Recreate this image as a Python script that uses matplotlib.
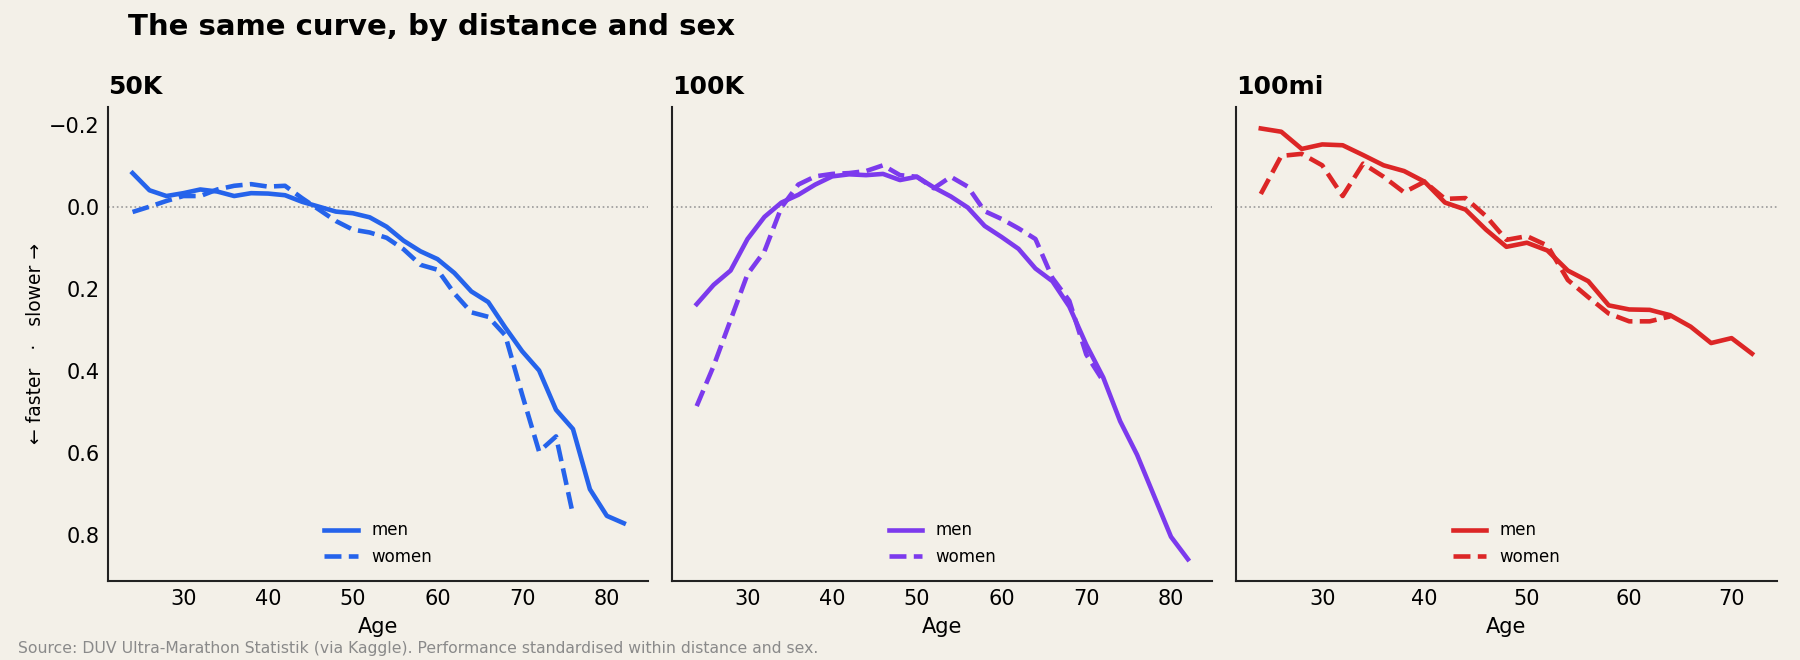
import numpy as np
import matplotlib
matplotlib.use("Agg")
import matplotlib.pyplot as plt

# ages (every 2 years) and standardised performance
ages_50k_men = [24, 26, 28, 30, 32, 34, 36, 38, 40, 42, 44, 46, 48, 50, 52, 54,
                56, 58, 60, 62, 64, 66, 68, 70, 72, 74, 76, 78, 80, 82]
perf_50k_men = [-0.083, -0.041, -0.027, -0.034, -0.043, -0.038, -0.027, -0.034,
                -0.033, -0.029, -0.013, -0.001, 0.011, 0.015, 0.025, 0.048,
                0.082, 0.108, 0.127, 0.161, 0.206, 0.232, 0.294, 0.352, 0.399,
                0.495, 0.542, 0.689, 0.754, 0.772]
ages_50k_women = [24, 26, 28, 30, 32, 34, 36, 38, 40, 42, 44, 46, 48, 50, 52,
                  54, 56, 58, 60, 62, 64, 66, 68, 70, 72, 74, 76]
perf_50k_women = [0.012, -0.001, -0.015, -0.027, -0.027, -0.043, -0.052, -0.056,
                  -0.050, -0.052, -0.022, 0.006, 0.034, 0.055, 0.062, 0.075,
                  0.103, 0.141, 0.153, 0.211, 0.257, 0.268, 0.313, 0.458, 0.597,
                  0.560, 0.751]

ages_100k_men = ages_50k_men
perf_100k_men = [0.237, 0.190, 0.155, 0.078, 0.024, -0.011, -0.030, -0.055,
                 -0.075, -0.080, -0.078, -0.081, -0.066, -0.074, -0.048, -0.026,
                 0.001, 0.046, 0.073, 0.102, 0.150, 0.181, 0.243, 0.336, 0.416,
                 0.523, 0.605, 0.705, 0.805, 0.860]
ages_100k_women = [24, 26, 28, 30, 32, 34, 36, 38, 40, 42, 44, 46, 48, 50, 52,
                   54, 56, 58, 60, 62, 64, 66, 68, 70, 72]
perf_100k_women = [0.486, 0.388, 0.276, 0.164, 0.108, 0.001, -0.055, -0.075,
                   -0.081, -0.083, -0.088, -0.102, -0.078, -0.074, -0.046,
                   -0.074, -0.050, 0.010, 0.029, 0.052, 0.078, 0.173, 0.229,
                   0.360, 0.425]

ages_100mi_men = [24, 26, 28, 30, 32, 34, 36, 38, 40, 42, 44, 46, 48, 50, 52,
                  54, 56, 58, 60, 62, 64, 66, 68, 70, 72]
perf_100mi_men = [-0.192, -0.184, -0.142, -0.153, -0.151, -0.127, -0.102, -0.088,
                  -0.062, -0.011, 0.006, 0.055, 0.097, 0.087, 0.106, 0.155,
                  0.181, 0.240, 0.250, 0.251, 0.264, 0.292, 0.332, 0.320, 0.358]
ages_100mi_women = [24, 26, 28, 30, 32, 34, 36, 38, 40, 42, 44, 46, 48, 50, 52,
                    54, 56, 58, 60, 62, 64]
perf_100mi_women = [-0.032, -0.125, -0.130, -0.102, -0.027, -0.106, -0.074,
                    -0.036, -0.062, -0.020, -0.022, 0.022, 0.080, 0.071, 0.094,
                    0.178, 0.220, 0.260, 0.279, 0.279, 0.267]

distances = ["50K", "100K", "100mi"]
colors = ["#2563eb", "#7c3aed", "#dc2626"]
men = [(ages_50k_men, perf_50k_men), (ages_100k_men, perf_100k_men),
       (ages_100mi_men, perf_100mi_men)]
women = [(ages_50k_women, perf_50k_women), (ages_100k_women, perf_100k_women),
         (ages_100mi_women, perf_100mi_women)]

bg = "#f3f0e8"
plt.rcParams['font.family'] = ['DejaVu Sans']

fig, axes = plt.subplots(1, 3, figsize=(12, 4.4), dpi=150, sharey=True)
fig.patch.set_facecolor(bg)
fig.subplots_adjust(left=0.06, right=0.987, bottom=0.12, top=0.838, wspace=0.044)

for i, ax in enumerate(axes):
    ax.set_facecolor(bg)
    ax.axhline(0, color="#999999", lw=0.8, ls=":", zorder=1)
    ax.plot(men[i][0], men[i][1], color=colors[i], lw=2.2, label="men")
    ax.plot(women[i][0], women[i][1], color=colors[i], lw=2.2, ls="--",
            label="women")
    ax.set_title(distances[i], loc="left", fontsize=12, fontweight="bold")
    ax.set_xlabel("Age", fontsize=10)
    for s in ["top", "right"]:
        ax.spines[s].set_visible(False)
    for s in ["left", "bottom"]:
        ax.spines[s].set_color("#222222")
        ax.spines[s].set_linewidth(1.0)
    ax.tick_params(length=0, labelsize=10, pad=4)
    ax.legend(loc="lower center", frameon=False, fontsize=8)

axes[0].invert_yaxis()
axes[0].set_ylabel("\u2190 faster   \u00b7   slower \u2192", fontsize=9,
                   labelpad=2)

fig.text(0.071, 0.947, "The same curve, by distance and sex", fontsize=14,
         fontweight="bold", va="baseline")
fig.text(0.010, 0.011, "Source: DUV Ultra-Marathon Statistik (via Kaggle). "
         "Performance standardised within distance and sex.",
         fontsize=7.5, color="#8a8a8a", va="baseline")

fig.savefig("out.png", dpi=150, facecolor=bg)
